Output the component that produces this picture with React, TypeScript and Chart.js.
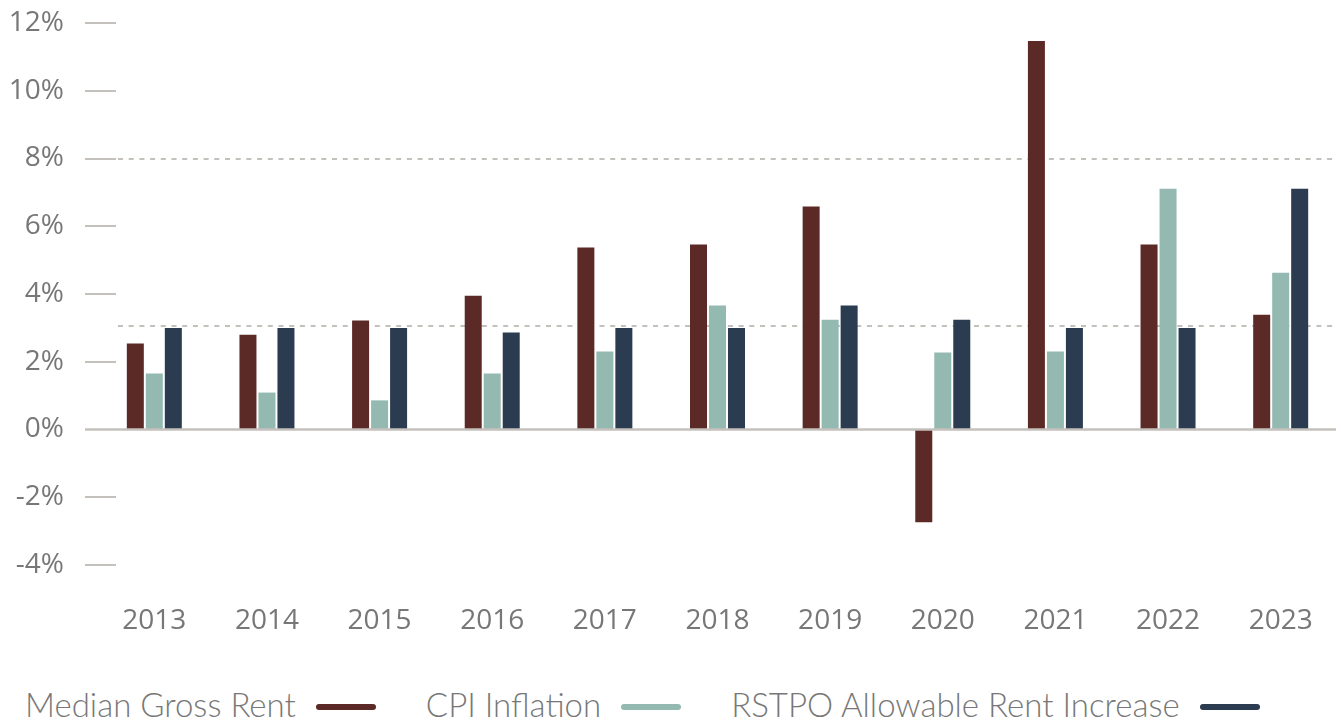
import React, { useEffect, useRef } from "react";
import { Chart, registerables } from "chart.js";

Chart.register(...registerables);

const years = ["2013", "2014", "2015", "2016", "2017", "2018", "2019", "2020", "2021", "2022", "2023"];
const medianGrossRent = [2.54, 2.8, 3.22, 3.95, 5.37, 5.46, 6.58, -2.74, 11.47, 5.46, 3.39];
const cpiInflation = [1.65, 1.09, 0.86, 1.65, 2.3, 3.66, 3.24, 2.27, 2.3, 7.11, 4.63];
const rstpoIncrease = [3.0, 3.0, 3.0, 2.86, 3.0, 3.0, 3.66, 3.24, 3.0, 3.0, 7.11];
const yTickValues = [-4, -2, 0, 2, 4, 6, 8, 10, 12];
const dashedRefLines = [8, 3.05];

const seriesNames = ["Median Gross Rent", "CPI Inflation", "RSTPO Allowable Rent Increase"];
const seriesColors = ["#5c2a26", "#93b9b0", "#2b3b50"];

const GRID_COLOR = "#c4c0bc";
const TEXT_COLOR = "#777777";

const axisDecor = {
  id: "axisDecor",
  beforeDatasetsDraw(chart: any) {
    const { ctx, chartArea, scales } = chart;
    const y = scales.y;
    ctx.save();
    ctx.strokeStyle = GRID_COLOR;
    ctx.lineWidth = 2;
    yTickValues.forEach((v) => {
      if (v === 0) return;
      const py = Math.round(y.getPixelForValue(v));
      ctx.beginPath();
      ctx.moveTo(chartArea.left - 13, py);
      ctx.lineTo(chartArea.left + 18, py);
      ctx.stroke();
    });
    ctx.setLineDash([5, 5.7]);
    dashedRefLines.forEach((v) => {
      const py = Math.round(y.getPixelForValue(v));
      ctx.beginPath();
      ctx.moveTo(chartArea.left + 20, py);
      ctx.lineTo(chartArea.right, py);
      ctx.stroke();
    });
    ctx.restore();
  },
  afterDatasetsDraw(chart: any) {
    const { ctx, chartArea, scales } = chart;
    const py = scales.y.getPixelForValue(0);
    ctx.save();
    ctx.strokeStyle = GRID_COLOR;
    ctx.lineWidth = 2.5;
    ctx.beginPath();
    ctx.moveTo(chartArea.left - 13, py);
    ctx.lineTo(chartArea.right - 1, py);
    ctx.stroke();
    ctx.restore();
  },
};

export default function App() {
  const canvasRef = useRef<HTMLCanvasElement | null>(null);

  useEffect(() => {
    if (!canvasRef.current) return;
    const seriesData = [medianGrossRent, cpiInflation, rstpoIncrease];
    const chart = new Chart(canvasRef.current, {
      type: "bar",
      data: {
        labels: years,
        datasets: seriesNames.map((name, i) => ({
          label: name,
          data: seriesData[i],
          backgroundColor: seriesColors[i],
          borderWidth: 0,
          barPercentage: 0.895,
          categoryPercentage: 0.506,
        })),
      },
      options: {
        animation: false,
        responsive: false,
        maintainAspectRatio: false,
        layout: { padding: { top: 23, right: 4, left: 0, bottom: 0 } },
        plugins: {
          legend: { display: false },
          tooltip: { enabled: false },
        },
        scales: {
          x: {
            grid: { display: false, drawTicks: false },
            border: { display: false },
            ticks: {
              color: TEXT_COLOR,
              font: { family: "'Open Sans'", size: 28 },
              padding: 39,
              maxRotation: 0,
            },
            afterFit(scale: any) {
              scale.height = 85;
              scale.paddingLeft = 0;
              scale.paddingRight = 0;
            },
          },
          y: {
            min: -4,
            max: 12,
            grid: { display: false, drawTicks: false },
            border: { display: false },
            ticks: {
              stepSize: 2,
              color: TEXT_COLOR,
              font: { family: "'Open Sans'", size: 28 },
              padding: 34,
              callback: (v: any) => `${v}%`,
            },
            afterFit(scale: any) {
              scale.width = 98;
              scale.paddingTop = 0;
              scale.paddingBottom = 0;
            },
          },
        },
      },
      plugins: [axisDecor],
    });
    return () => chart.destroy();
  }, []);

  return (
    <div style={{ position: "absolute", left: 0, top: 0, width: 1341, height: 721, background: "#fff" }}>
      <canvas ref={canvasRef} width={1341} height={650} style={{ display: "block" }} />
      <div
        style={{
          position: "absolute",
          left: 25,
          top: 679,
          height: 50,
          display: "flex",
          alignItems: "center",
          fontFamily: "Lato, 'Open Sans', sans-serif",
          fontWeight: 300,
          fontSize: 33,
          color: TEXT_COLOR,
          whiteSpace: "nowrap",
        }}
      >
        {seriesNames.map((name, i) => (
          <div key={name} style={{ display: "flex", alignItems: "center", marginRight: 50 }}>
            <span>{name}</span>
            <span
              style={{
                display: "inline-block",
                width: 60,
                height: 6,
                borderRadius: 3,
                background: seriesColors[i],
                marginLeft: 20,
                marginTop: 6,
              }}
            />
          </div>
        ))}
      </div>
    </div>
  );
}
